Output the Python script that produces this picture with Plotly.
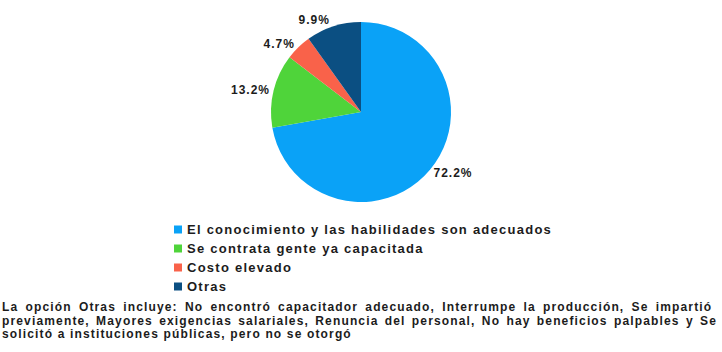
import plotly.graph_objects as go

W, H = 722, 352

categories = [
    "El conocimiento y las habilidades son adecuados",
    "Se contrata gente ya capacitada",
    "Costo elevado",
    "Otras",
]
values = [72.2, 13.2, 4.7, 9.9]
colors = ["#0aa2f7", "#4fd43a", "#f9624a", "#0b4f82"]

note_lines = [
    "La opción Otras incluye: No encontró capacitador adecuado, Interrumpe la producción, Se impartió",
    "previamente, Mayores exigencias salariales, Renuncia del personal, No hay beneficios palpables y Se",
    "solicitó a instituciones públicas, pero no se otorgó",
]
# extra spacing between words so the first two lines fill the width
note_word_spacing = [2.7, 1.8, 0]

FONT = "Liberation Sans"
INK = "#1c1c1c"


def px_x(x):
    return x / W


def px_y(y):
    return 1 - y / H


def spaced(text, letter=1.2, word=0):
    return (
        f"<span style='letter-spacing:{letter}px;word-spacing:{word}px'>"
        f"<b>{text}</b></span>"
    )


fig = go.Figure(
    go.Pie(
        labels=categories,
        values=values,
        sort=False,
        direction="clockwise",
        rotation=0,
        marker=dict(colors=colors, line=dict(width=0)),
        textposition="outside",
        texttemplate=spaced("%{value:.1f}%", letter=1.0),
        textfont=dict(family=FONT, size=12, color=INK),
        domain=dict(x=[0.3, 0.7], y=[0.426, 0.9375]),
        showlegend=False,
        hoverinfo="label+percent",
    )
)

# legend: colour swatch + label per category
shapes = []
annotations = []
legend_x, legend_top, row_step, box = 174, 229.5, 19, 8
for i, (name, col) in enumerate(zip(categories, colors)):
    yc = legend_top + i * row_step
    shapes.append(
        dict(
            type="rect",
            xref="paper",
            yref="paper",
            x0=px_x(legend_x),
            x1=px_x(legend_x + box),
            y0=px_y(yc - box / 2),
            y1=px_y(yc + box / 2),
            fillcolor=col,
            line=dict(width=0),
        )
    )
    annotations.append(
        dict(
            text=spaced(name, letter=1.25),
            x=px_x(legend_x + box + 3),
            y=px_y(yc),
            xref="paper",
            yref="paper",
            xanchor="left",
            yanchor="middle",
            showarrow=False,
            font=dict(family=FONT, size=13, color=INK),
        )
    )

# explanatory note under the legend
note_top, note_step = 307, 13.5
for i, (line, ws) in enumerate(zip(note_lines, note_word_spacing)):
    annotations.append(
        dict(
            text=spaced(line, letter=1.15, word=ws),
            x=0,
            y=px_y(note_top + i * note_step),
            xref="paper",
            yref="paper",
            xanchor="left",
            yanchor="middle",
            align="left",
            showarrow=False,
            font=dict(family=FONT, size=12, color=INK),
        )
    )

fig.update_layout(
    width=W,
    height=H,
    margin=dict(l=0, r=0, t=0, b=0),
    paper_bgcolor="white",
    plot_bgcolor="white",
    font=dict(family=FONT, color=INK),
    shapes=shapes,
    annotations=annotations,
)

fig.write_html("out.html")
